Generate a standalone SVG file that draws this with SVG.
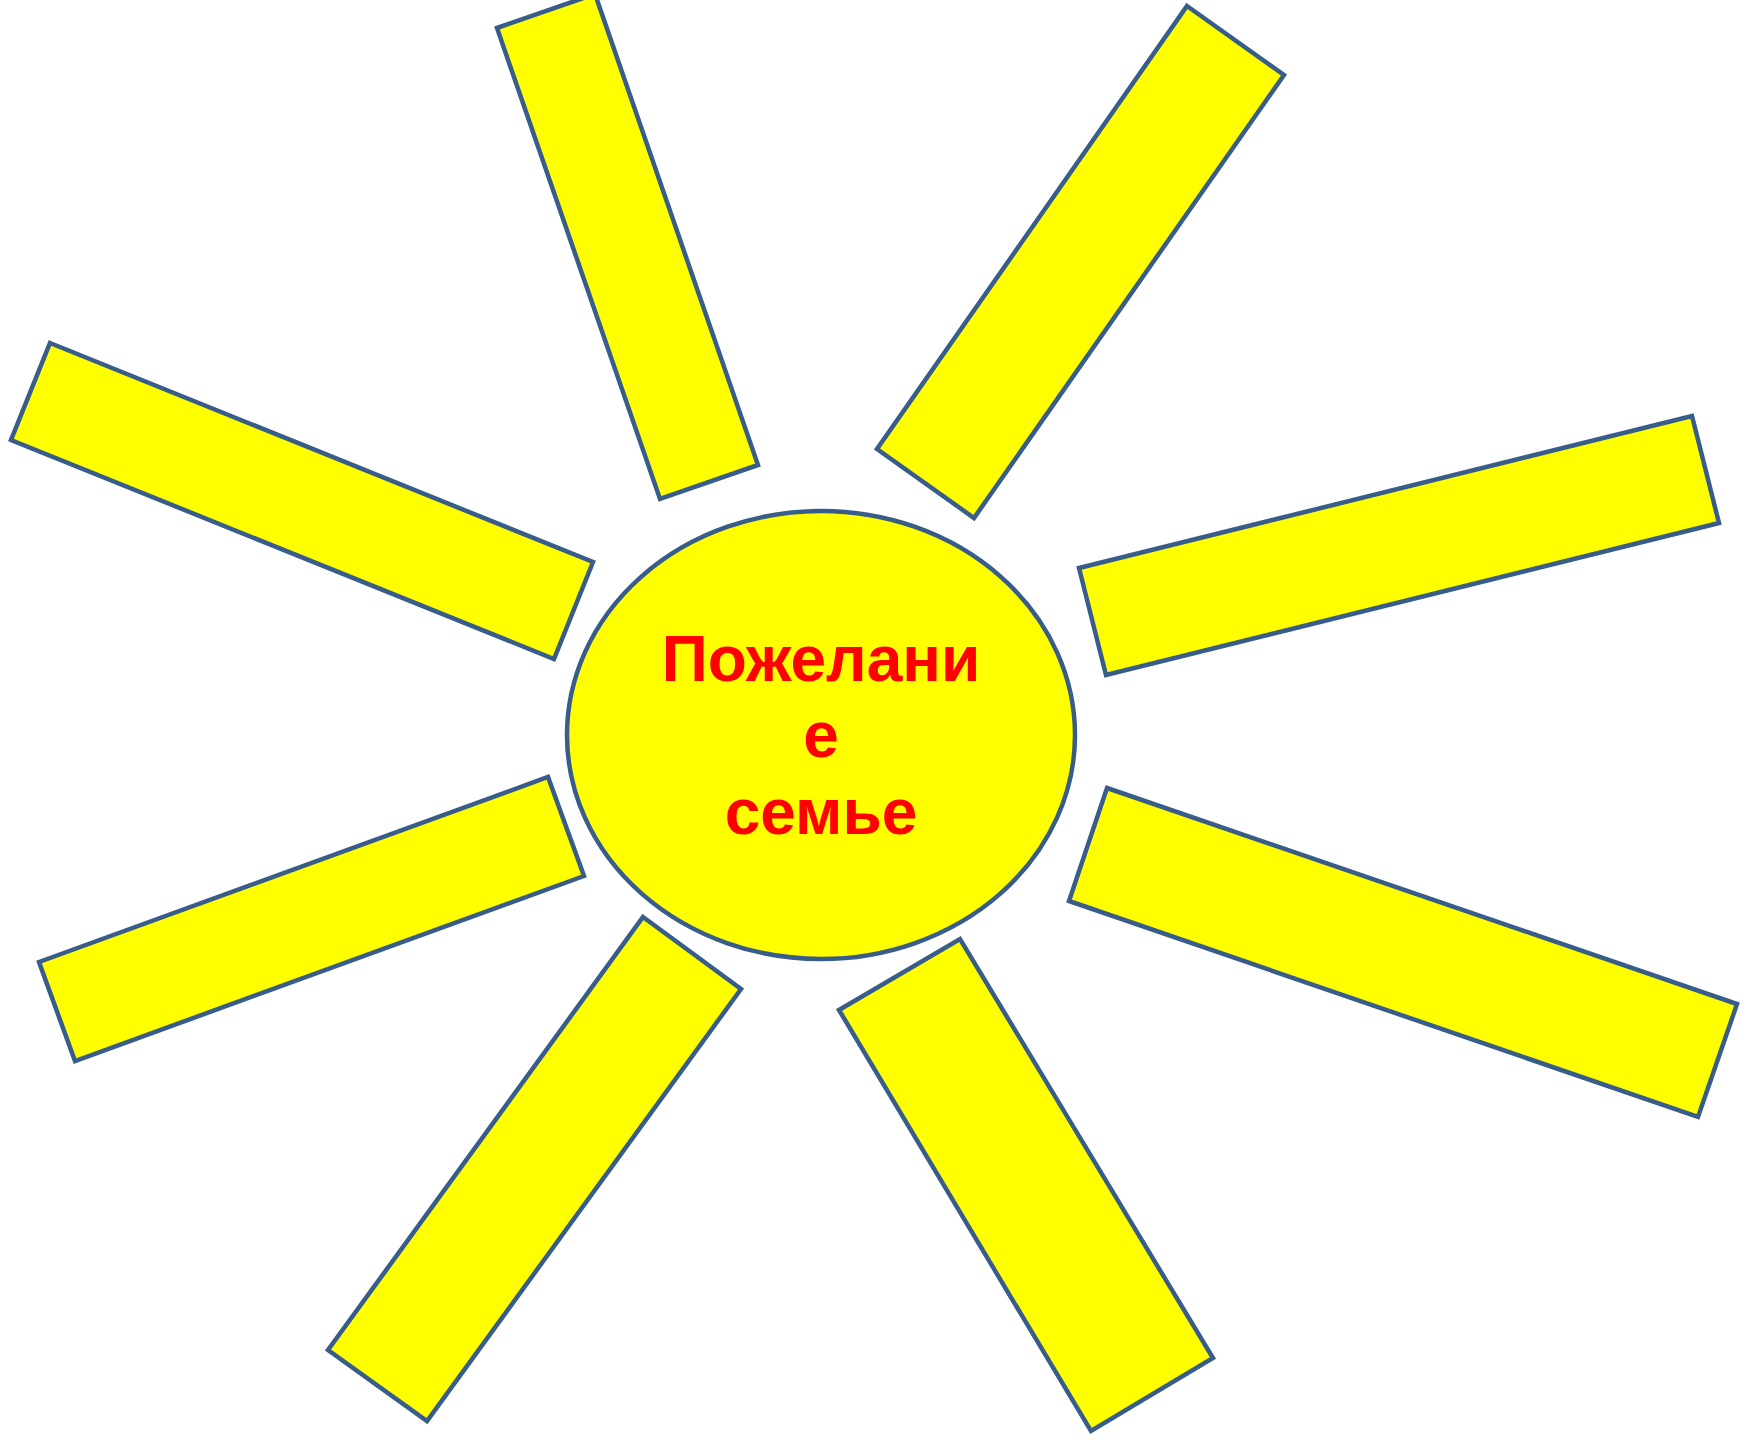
<svg xmlns="http://www.w3.org/2000/svg" width="1754" height="1440" viewBox="0 0 1754 1440">
<style>
.ray{fill:#ffff00;stroke:#385d8a;stroke-width:4.5;stroke-linejoin:miter}
.sun{fill:#ffff00;stroke:#385d8a;stroke-width:4.5}
.lbl{font-family:"Liberation Sans",Arial,sans-serif;font-weight:bold;font-size:64px;fill:#ff0000;text-anchor:middle}
</style>
<rect width="1754" height="1440" fill="#ffffff"/>
<g id="ray-top-left"><polygon class="ray" points="497,28 595,-6 758,465 660,499"/></g>
<g id="ray-top-right"><polygon class="ray" points="1187,6 1284,75 974,518 877,449"/></g>
<g id="ray-right-upper"><polygon class="ray" points="1079,568 1692,416 1719,523 1106,675"/></g>
<g id="ray-left-upper"><polygon class="ray" points="50,343 593,562 554,659 11,440"/></g>
<g id="ray-left-lower"><polygon class="ray" points="39,962 548,777 584,876 75,1061"/></g>
<g id="ray-bottom-left"><polygon class="ray" points="643,917 741,989 427,1421 328,1350"/></g>
<g id="ray-bottom-right"><polygon class="ray" points="839,1010 960,939 1213,1358 1091,1431"/></g>
<g id="ray-right-lower"><polygon class="ray" points="1107,788 1737,1004 1698,1117 1069,901"/></g>
<g id="sun">
<ellipse class="sun" cx="821" cy="735" rx="254" ry="224"/>
<text class="lbl" x="821" y="681">Пожелани</text>
<text class="lbl" x="821" y="757">е</text>
<text class="lbl" x="821" y="834">семье</text>
</g>
<g id="connectors"></g>
</svg>
